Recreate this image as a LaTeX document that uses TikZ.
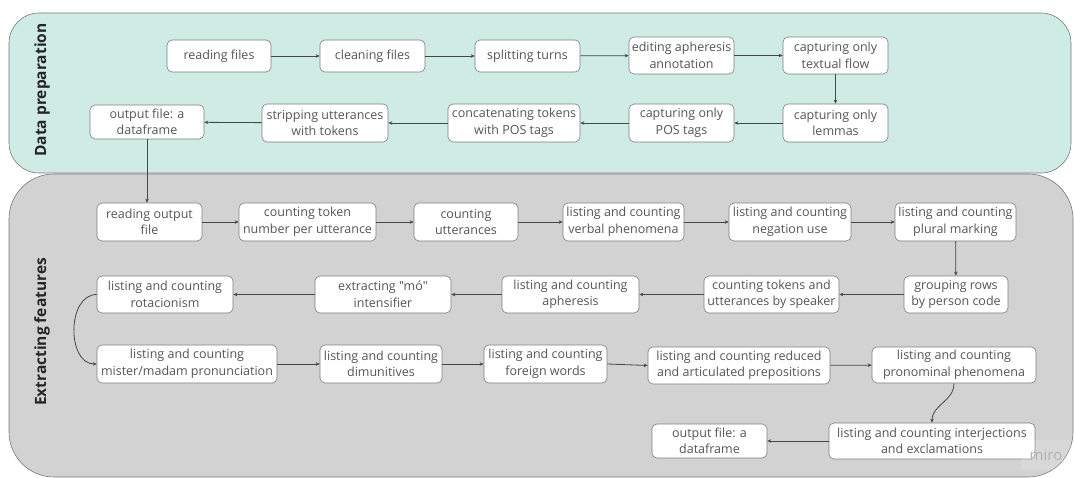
\documentclass[tikz,border=0pt]{standalone}
\usepackage{fontspec}
\setmainfont{Open Sans}
\newfontfamily\nomapfont{Open Sans}[Ligatures=TeXOff]
\usetikzlibrary{arrows.meta}
\definecolor{tealbg}{RGB}{206,235,228}
\definecolor{graybg}{RGB}{210,210,210}
\definecolor{panelborder}{RGB}{120,120,120}
\definecolor{boxborder}{RGB}{125,125,125}
\definecolor{txt}{RGB}{85,85,85}
\definecolor{arr}{RGB}{70,70,70}
\tikzset{
  box/.style={draw=boxborder, line width=0.6pt, fill=white, rounded corners=5pt,
    align=center, inner sep=1pt, text=txt, font=\fontsize{12.5}{16.5}\selectfont},
  link/.style={draw=arr, line width=0.8pt, -{Stealth[length=4pt,width=3.5pt]}},
  paneltitle/.style={rotate=90, font=\fontsize{15.5}{18}\selectfont\bfseries, text=black!85},
}
\newcommand{\bx}[6]{\node[box, minimum width=#3pt, minimum height=#4pt] (#1) at (#2) {#6};}
\begin{document}
\begin{tikzpicture}[x=1pt,y=-1pt]
\useasboundingbox (0,0) rectangle (1074,478);
% panels
\draw[fill=tealbg, draw=panelborder, line width=0.6pt, rounded corners=30pt] (9,13) rectangle (1071,173);
\draw[fill=graybg, draw=panelborder, line width=0.6pt, rounded corners=45pt] (9,174) rectangle (1073,477);
\node[paneltitle] (t1) at (42,90) {Data preparation};
\node[paneltitle] (t2) at (42,332) {Extracting features};
% data preparation
\bx{rf}{219,56}{104}{32}{}{reading files}
\bx{cf}{372.5,56}{105}{32}{}{cleaning files}
\bx{st}{527.5,56}{105}{32}{}{splitting turns}
\bx{ea}{681.5,55.5}{105}{37}{}{editing apheresis\\annotation}
\bx{ct}{835.5,55.5}{105}{37}{}{capturing only\\textual flow}
\bx{cl}{835.5,123}{105}{38}{}{capturing only\\lemmas}
\bx{cp}{681.5,123}{105}{38}{}{capturing only\\POS tags}
\bx{cc}{514,123}{132}{38}{}{concatenating tokens\\with POS tags}
\bx{su}{325,123}{126}{38}{}{stripping utterances\\with tokens}
\bx{of}{147,122}{114}{34}{}{output file: a\\dataframe}
% extracting features
\bx{ro}{149.5,222}{105}{38}{}{reading output\\file}
\bx{ctn}{307.5,222}{137}{38}{}{counting token\\number per utterance}
\bx{cu}{466,222}{104}{38}{}{counting\\utterances}
\bx{vp}{623.5,222}{121}{38}{}{listing and counting\\verbal phenomena}
\bx{nu}{790,222}{122}{38}{}{listing and counting\\negation use}
\bx{pm}{955.5,222}{121}{38}{}{listing and counting\\plural marking}
\bx{gr}{956,294.5}{104}{37}{}{grouping rows\\by person code}
\bx{ctu}{771.5,294.5}{135}{37}{}{counting tokens and\\utterances by speaker}
\bx{ap}{570.5,294.5}{137}{37}{}{listing and counting\\apheresis}
\bx{mo}{383,294.5}{136}{37}{}{{\nomapfont extracting "mó"}\\intensifier}
\bx{rot}{165,294.5}{136}{37}{}{listing and counting\\rotacionism}
\bx{mm}{187,364}{180}{38}{}{listing and counting\\mister/madam pronunciation}
\bx{dim}{381,364}{122}{38}{}{listing and counting\\dimunitives}
\bx{fw}{545.5,364}{123}{38}{}{listing and counting\\foreign words}
\bx{rp}{739,365.5}{182}{37}{}{listing and counting reduced\\and articulated prepositions}
\bx{pp}{954,365}{164}{36}{}{listing and counting\\pronominal phenomena}
\bx{ij}{932,441}{206}{36}{}{listing and counting interjections\\and exclamations}
\bx{of2}{709.5,441}{115}{34}{}{output file: a\\dataframe}
% watermark
\node[fill=white, fill opacity=0.15, text opacity=1, text=black!30, font=\fontsize{15}{15}\selectfont, inner sep=3pt, minimum width=50pt, minimum height=30pt] (miro) at (1046,455) {miro};
% connectors
\draw[link] (rf) -- (cf);
\draw[link] (cf) -- (st);
\draw[link] (st) -- (ea);
\draw[link] (ea) -- (ct);
\draw[link] (ct) -- (cl);
\draw[link] (cl) -- (cp);
\draw[link] (cp) -- (cc);
\draw[link] (cc) -- (su);
\draw[link] (su) -- (of);
\draw[link] (of.south) -- (of.south |- ro.north);
\draw[link] (ro) -- (ctn);
\draw[link] (ctn) -- (cu);
\draw[link] (cu) -- (vp);
\draw[link] (vp) -- (nu);
\draw[link] (nu) -- (pm);
\draw[link] (pm) -- (gr);
\draw[link] (gr) -- (ctu);
\draw[link] (ctu) -- (ap);
\draw[link] (ap) -- (mo);
\draw[link] (mo) -- (rot);
\draw[link] (rot.west) .. controls +(-30,0) and +(-30,0) .. (mm.west);
\draw[link] (mm) -- (dim);
\draw[link] (dim) -- (fw);
\draw[link] (fw.east) -- (rp.west);
\draw[link] (rp) -- (pp);
\draw[link] (pp.south) .. controls +(0,18) and +(0,-18) .. (ij.north);
\draw[link] (ij) -- (of2);
\end{tikzpicture}
\end{document}
